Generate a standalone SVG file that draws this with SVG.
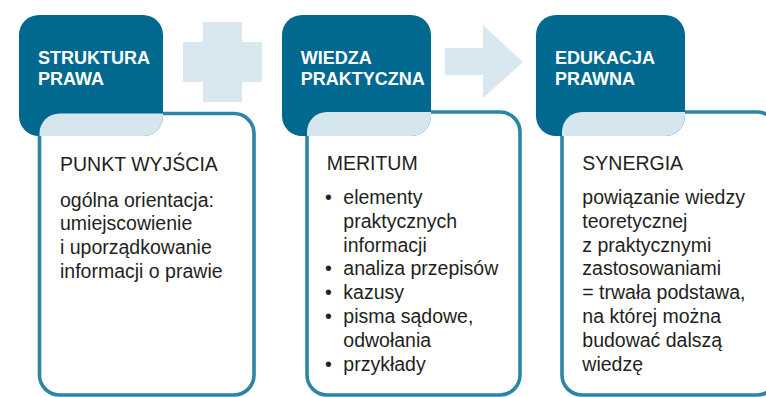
<svg xmlns="http://www.w3.org/2000/svg" width="766" height="397" viewBox="0 0 766 397">
<defs>
<style>
.card{fill:#ffffff;stroke:#2b86a6;stroke-width:3.6}
.head{fill:#01688f}
.over{fill:#d6e6ef}
.deco{fill:#d8e7f0}
.ht{font-family:"Liberation Sans",Arial,sans-serif;font-weight:bold;font-size:18px;fill:#ffffff}
.bt{font-family:"Liberation Sans",Arial,sans-serif;font-size:19.5px;fill:#231f20}
</style>
<clipPath id="c1"><rect x="19" y="15" width="144" height="121" rx="20"/></clipPath>
<clipPath id="c2"><rect x="282" y="15" width="149" height="121" rx="20"/></clipPath>
<clipPath id="c3"><rect x="536" y="15" width="149" height="121" rx="20"/></clipPath>
</defs>
<rect width="766" height="397" fill="#ffffff"/>
<g id="connectors">
<path class="deco" d="M203,22H242V42H262V82H242V102H203V82H183V42H203Z"/>
<path class="deco" d="M445,48H483V25L523,62L483,98V75H445Z"/>
</g>
<g id="node1">
<rect class="card" x="39.5" y="113.5" width="214.5" height="281.5" rx="20"/>
<rect class="head" x="19" y="15" width="144" height="121" rx="20"/>
<rect class="over" x="39.5" y="113.5" width="214.5" height="281.5" rx="20" clip-path="url(#c1)"/>
<text class="ht" x="38" y="64">STRUKTURA</text>
<text class="ht" x="38" y="85">PRAWA</text>
<text class="bt" x="60" y="171">PUNKT WYJŚCIA</text>
<text class="bt" x="60" y="206.5">ogólna orientacja:</text>
<text class="bt" x="60" y="230.2">umiejscowienie</text>
<text class="bt" x="60" y="253.9">i uporządkowanie</text>
<text class="bt" x="60" y="277.6">informacji o prawie</text>
</g>
<g id="node2">
<rect class="card" x="307" y="112" width="213" height="283" rx="20"/>
<rect class="head" x="282" y="15" width="149" height="121" rx="20"/>
<rect class="over" x="307" y="112" width="213" height="283" rx="20" clip-path="url(#c2)"/>
<text class="ht" x="300.7" y="64">WIEDZA</text>
<text class="ht" x="300.7" y="85">PRAKTYCZNA</text>
<text class="bt" x="326.7" y="170">MERITUM</text>
<text class="bt" x="325" y="204">•</text>
<text class="bt" x="343.3" y="204">elementy</text>
<text class="bt" x="343.3" y="227.8">praktycznych</text>
<text class="bt" x="343.3" y="251.6">informacji</text>
<text class="bt" x="325" y="275.4">•</text>
<text class="bt" x="343.3" y="275.4">analiza przepisów</text>
<text class="bt" x="325" y="299.2">•</text>
<text class="bt" x="343.3" y="299.2">kazusy</text>
<text class="bt" x="325" y="323">•</text>
<text class="bt" x="343.3" y="323">pisma sądowe,</text>
<text class="bt" x="343.3" y="346.8">odwołania</text>
<text class="bt" x="325" y="370.6">•</text>
<text class="bt" x="343.3" y="370.6">przykłady</text>
</g>
<g id="node3">
<rect class="card" x="562" y="112" width="215" height="283" rx="20"/>
<rect class="head" x="536" y="15" width="149" height="121" rx="20"/>
<rect class="over" x="562" y="112" width="215" height="283" rx="20" clip-path="url(#c3)"/>
<text class="ht" x="555" y="64">EDUKACJA</text>
<text class="ht" x="555" y="85">PRAWNA</text>
<text class="bt" x="582.3" y="169.5">SYNERGIA</text>
<text class="bt" x="582.3" y="204">powiązanie wiedzy</text>
<text class="bt" x="582.3" y="227.8">teoretycznej</text>
<text class="bt" x="582.3" y="251.6">z praktycznymi</text>
<text class="bt" x="582.3" y="275.4">zastosowaniami</text>
<text class="bt" x="582.3" y="299.2">= trwała podstawa,</text>
<text class="bt" x="582.3" y="323">na której można</text>
<text class="bt" x="582.3" y="346.8">budować dalszą</text>
<text class="bt" x="582.3" y="370.6">wiedzę</text>
</g>
</svg>
